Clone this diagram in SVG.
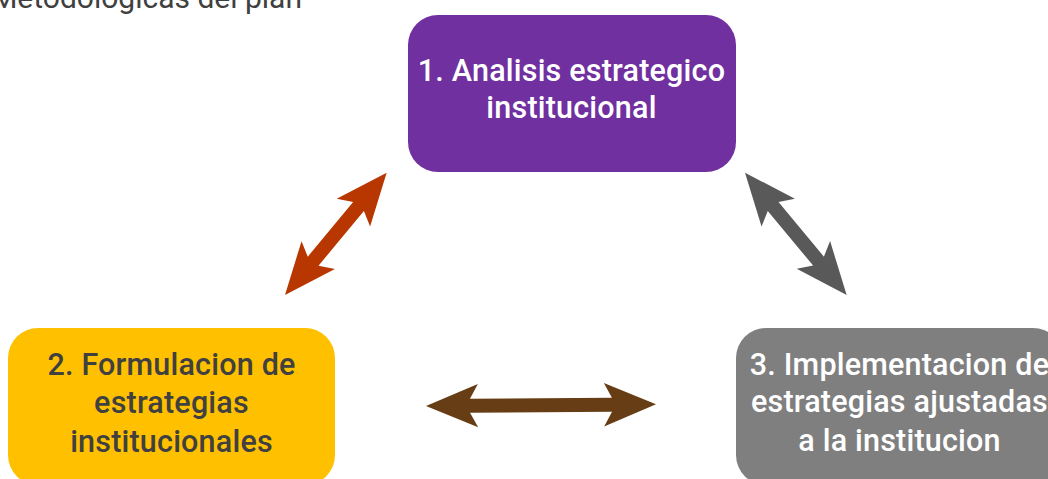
<svg xmlns="http://www.w3.org/2000/svg" width="1048" height="479" viewBox="0 0 1048 479">
<style>
.t{font-family:Roboto,"Liberation Sans",sans-serif;font-size:30.5px;font-weight:500;letter-spacing:0.2px;text-anchor:middle}
.w{fill:#ffffff}
.d{fill:#404040}
.title{font-family:Roboto,"Liberation Sans",sans-serif;font-size:30px;fill:#404040;text-anchor:end}
</style>
<rect width="1048" height="479" fill="#ffffff"/>
<text class="title" x="302" y="8">Metodologicas del plan</text>
<g id="connectors">
<polygon fill="#B83700" transform="translate(285,295) rotate(-50.26)" points="0,0 52,-21.7 44,-7 115,-7 107,-21.7 159,0 107,21.7 115,7 44,7 52,21.7"/>
<polygon fill="#595959" transform="translate(745,172.7) rotate(50.26)" points="0,0 52,-21.7 44,-7 115,-7 107,-21.7 159,0 107,21.7 115,7 44,7 52,21.7"/>
<polygon fill="#663D14" transform="translate(426,406) rotate(-0.42)" points="0,0 52,-21.7 44,-7 186,-7 178,-21.7 230,0 178,21.7 186,7 44,7 52,21.7"/>
</g>
<g id="node1">
<rect x="408" y="15" width="328" height="157" rx="30" fill="#7030A0"/>
<text class="t w" x="571.5" y="81">1. Analisis estrategico</text>
<text class="t w" x="571.5" y="118">institucional</text>
</g>
<g id="node2">
<rect x="8" y="328" width="327" height="157" rx="30" fill="#FFC000"/>
<text class="t d" x="171.5" y="375">2. Formulacion de</text>
<text class="t d" x="171.5" y="413">estrategias</text>
<text class="t d" x="171.5" y="452">institucionales</text>
</g>
<g id="node3">
<rect x="736" y="328" width="327" height="157" rx="30" fill="#7F7F7F"/>
<text class="t w" x="899.5" y="375">3. Implementacion de</text>
<text class="t w" x="899.5" y="412">estrategias ajustadas</text>
<text class="t w" x="899.5" y="451">a la institucion</text>
</g>
</svg>
